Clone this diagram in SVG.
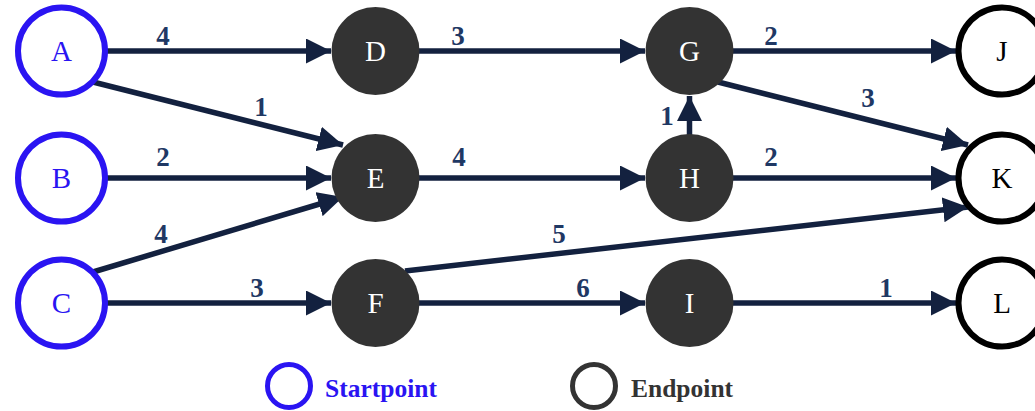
<svg xmlns="http://www.w3.org/2000/svg" width="1035" height="411" viewBox="0 0 1035 411">
  <style>
    .edge { stroke: #13213f; stroke-width: 5.5; fill: none; marker-end: url(#arrow); }
    .wt { font-family: "Liberation Serif", "Times New Roman", serif; font-weight: bold; font-size: 27px; fill: #1f3864; text-anchor: middle; }
    .lbl { font-family: "Liberation Serif", "Times New Roman", serif; font-size: 29px; text-anchor: middle; }
    .start circle { fill: #ffffff; stroke: #2a14f2; stroke-width: 6; }
    .start text { fill: #2a14f2; }
    .mid circle { fill: #333333; stroke: none; }
    .mid text { fill: #ffffff; }
    .end circle { fill: #ffffff; stroke: #000000; stroke-width: 6; }
    .end text { fill: #000000; }
    .legend { font-family: "Liberation Serif", "Times New Roman", serif; font-weight: bold; font-size: 25.5px; }
  </style>
  <defs>
    <marker id="arrow" markerUnits="userSpaceOnUse" markerWidth="25" markerHeight="25" refX="25" refY="12.5" orient="auto">
      <path d="M0,0 L25,12.5 L0,25 Z" fill="#13213f"/>
    </marker>
  </defs>

  <rect width="1035" height="411" fill="#ffffff"/>

  <!-- connectors -->
  <g id="connectors">
    <line class="edge" x1="105" y1="51" x2="331" y2="51"/>
    <line class="edge" x1="419" y1="51" x2="645" y2="51"/>
    <line class="edge" x1="733" y1="51" x2="956" y2="51"/>
    <line class="edge" x1="93" y1="82" x2="343" y2="145"/>
    <line class="edge" x1="105" y1="178" x2="331" y2="178"/>
    <line class="edge" x1="93" y1="272" x2="343" y2="197"/>
    <line class="edge" x1="419" y1="178" x2="645" y2="178"/>
    <line class="edge" x1="689.5" y1="136" x2="689.5" y2="96"/>
    <line class="edge" x1="733" y1="178" x2="956" y2="178"/>
    <line class="edge" x1="718" y1="82" x2="968" y2="145"/>
    <line class="edge" x1="105" y1="303" x2="331" y2="303"/>
    <line class="edge" x1="405" y1="271" x2="968" y2="207"/>
    <line class="edge" x1="419" y1="303" x2="645" y2="303"/>
    <line class="edge" x1="733" y1="303" x2="956" y2="303"/>

    <!-- edge weights -->
    <text class="wt" x="163" y="45">4</text>
    <text class="wt" x="261" y="116">1</text>
    <text class="wt" x="458" y="45">3</text>
    <text class="wt" x="771" y="45">2</text>
    <text class="wt" x="868" y="107">3</text>
    <text class="wt" x="667" y="125">1</text>
    <text class="wt" x="163" y="166">2</text>
    <text class="wt" x="459" y="166">4</text>
    <text class="wt" x="771" y="166">2</text>
    <text class="wt" x="161" y="243">4</text>
    <text class="wt" x="559" y="243">5</text>
    <text class="wt" x="257" y="297">3</text>
    <text class="wt" x="583" y="297">6</text>
    <text class="wt" x="886" y="297">1</text>
  </g>

  <!-- start nodes -->
  <g id="node-A" class="start"><circle cx="61.5" cy="51" r="43.5"/><text class="lbl" x="61.5" y="61">A</text></g>
  <g id="node-B" class="start"><circle cx="61.5" cy="178" r="43.5"/><text class="lbl" x="61.5" y="188">B</text></g>
  <g id="node-C" class="start"><circle cx="61.5" cy="303" r="43.5"/><text class="lbl" x="61.5" y="313">C</text></g>

  <!-- intermediate nodes -->
  <g id="node-D" class="mid"><circle cx="375.5" cy="51" r="44"/><text class="lbl" x="375.5" y="61">D</text></g>
  <g id="node-E" class="mid"><circle cx="375.5" cy="178" r="44"/><text class="lbl" x="375.5" y="188">E</text></g>
  <g id="node-F" class="mid"><circle cx="375.5" cy="303" r="44"/><text class="lbl" x="375.5" y="313">F</text></g>
  <g id="node-G" class="mid"><circle cx="689.5" cy="51" r="44"/><text class="lbl" x="689.5" y="61">G</text></g>
  <g id="node-H" class="mid"><circle cx="689.5" cy="178" r="44"/><text class="lbl" x="689.5" y="188">H</text></g>
  <g id="node-I" class="mid"><circle cx="689.5" cy="303" r="44"/><text class="lbl" x="689.5" y="313">I</text></g>

  <!-- end nodes -->
  <g id="node-J" class="end"><circle cx="1002" cy="51" r="43.5"/><text class="lbl" x="1002" y="61">J</text></g>
  <g id="node-K" class="end"><circle cx="1002" cy="178" r="43.5"/><text class="lbl" x="1002" y="188">K</text></g>
  <g id="node-L" class="end"><circle cx="1002" cy="303" r="43.5"/><text class="lbl" x="1002" y="313">L</text></g>

  <!-- legend -->
  <g id="legend-start">
    <circle cx="289" cy="386" r="21.5" fill="none" stroke="#2a14f2" stroke-width="5"/>
    <text class="legend" x="325" y="397" fill="#2a14f2">Startpoint</text>
  </g>
  <g id="legend-end">
    <circle cx="594" cy="386" r="21.5" fill="none" stroke="#333333" stroke-width="5"/>
    <text class="legend" x="631" y="397" fill="#333333">Endpoint</text>
  </g>
</svg>
